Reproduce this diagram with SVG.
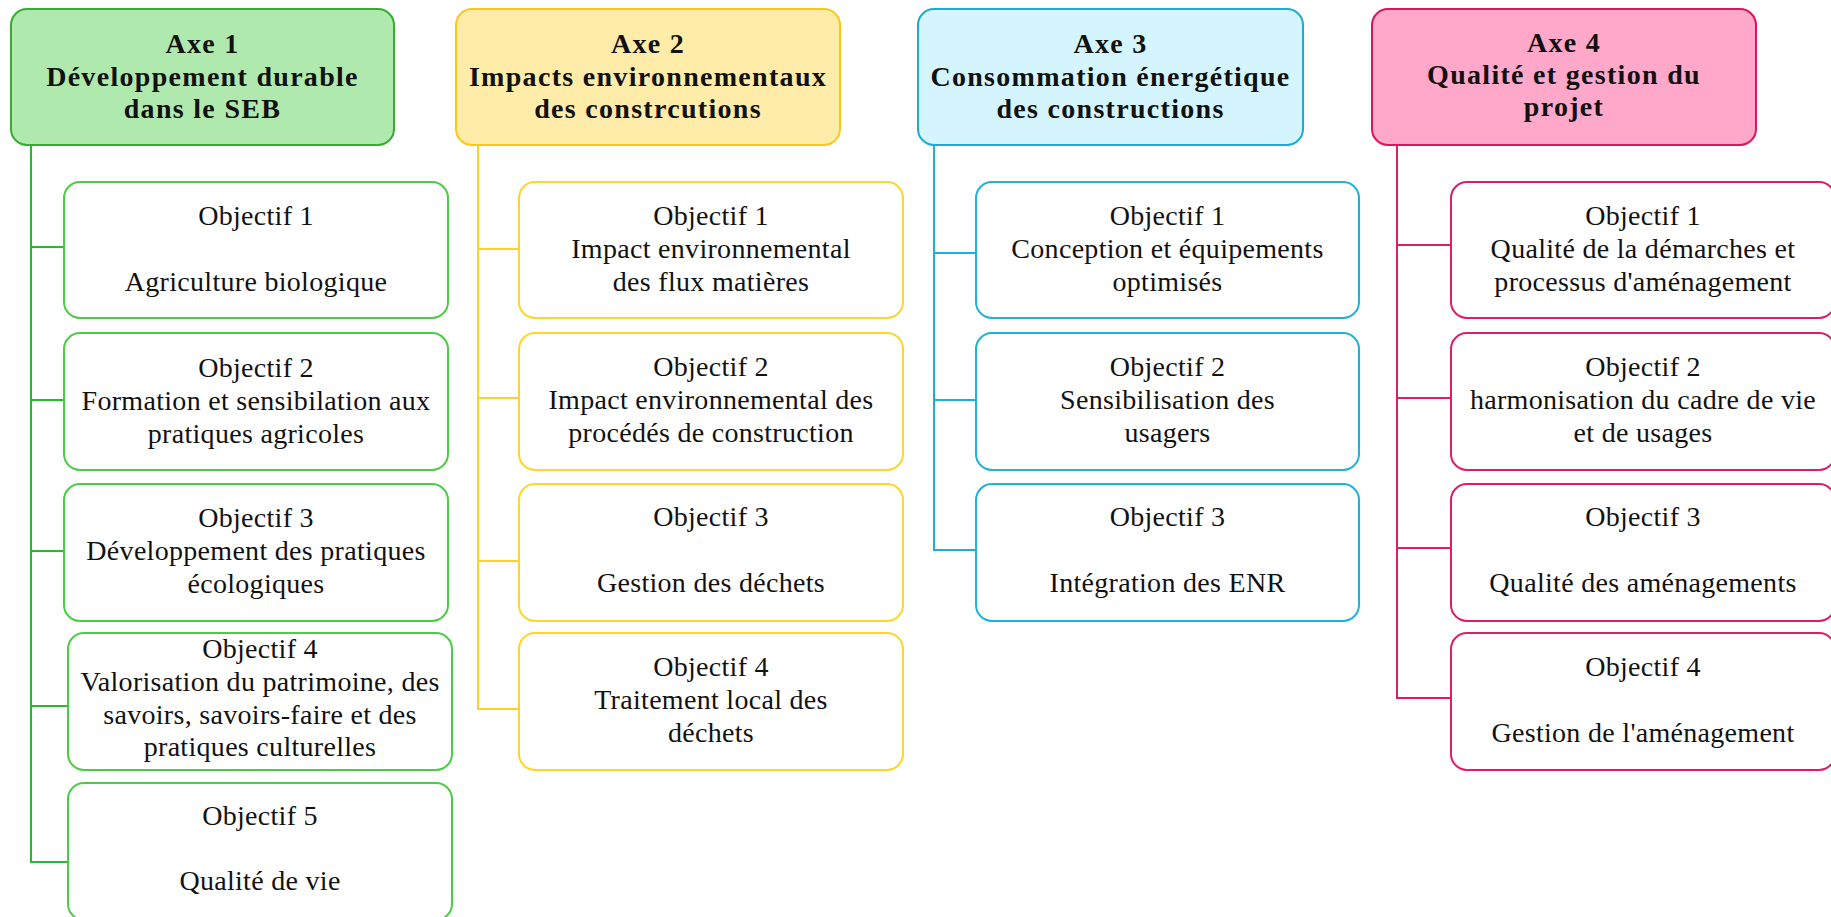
<svg xmlns="http://www.w3.org/2000/svg" width="1831" height="917" viewBox="0 0 1831 917">
<style>
text{font-family:"Liberation Serif","Times New Roman",serif;font-size:28px;fill:#111;text-anchor:middle;letter-spacing:0.3px}
.h{font-weight:bold;letter-spacing:1.3px}
rect{stroke-width:2}
.g rect.obj{fill:#fff;stroke:#4ccc46}
.y rect.obj{fill:#fff;stroke:#ffd52a}
.c rect.obj{fill:#fff;stroke:#1fb2d8}
.p rect.obj{fill:#fff;stroke:#dc1e66}
.gh{fill:#b0e9ae;stroke:#35ad30}
.yh{fill:#ffeca8;stroke:#f8c81c}
.ch{fill:#d4f5fd;stroke:#1aacd4}
.ph{fill:#ffa8c9;stroke:#d8155f}
#connectors path{fill:none;stroke-width:2}
</style>
<rect width="1831" height="917" fill="#fff"/>
<g id="connectors">
<path stroke="#2bb82b" d="M31 145V862H68M31 247H64M31 400H64M31 551H64M31 706H68"/>
<path stroke="#ffd21f" d="M478 145V709H519M478 249H519M478 398H519M478 561H519"/>
<path stroke="#1cb0d8" d="M934 145V550H976M934 253H976M934 400H976"/>
<path stroke="#dc1e66" d="M1397 145V698H1451M1397 245H1451M1397 398H1451M1397 548H1451"/>
</g>

<g id="axe1" class="g">
<rect class="gh" x="11" y="9" width="383" height="136" rx="16"/>
<text class="h" x="202.5" y="53">Axe 1</text>
<text class="h" x="202.5" y="86">Développement durable</text>
<text class="h" x="202.5" y="118">dans le SEB</text>
</g>
<g id="a1o1" class="g"><rect class="obj" x="64" y="182" width="384" height="136" rx="16"/>
<text x="256" y="225">Objectif 1</text><text x="256" y="291">Agriculture biologique</text></g>
<g id="a1o2" class="g"><rect class="obj" x="64" y="333" width="384" height="137" rx="16"/>
<text x="256" y="377">Objectif 2</text><text x="256" y="410">Formation et sensibilation aux</text><text x="256" y="443">pratiques agricoles</text></g>
<g id="a1o3" class="g"><rect class="obj" x="64" y="484" width="384" height="137" rx="16"/>
<text x="256" y="527">Objectif 3</text><text x="256" y="560">Développement des pratiques</text><text x="256" y="593">écologiques</text></g>
<g id="a1o4" class="g"><rect class="obj" x="68" y="633" width="384" height="137" rx="16"/>
<text x="260" y="658">Objectif 4</text><text x="260" y="691">Valorisation du patrimoine, des</text><text x="260" y="723.5">savoirs, savoirs-faire et des</text><text x="260" y="756">pratiques culturelles</text></g>
<g id="a1o5" class="g"><rect class="obj" x="68" y="783" width="384" height="137" rx="16"/>
<text x="260" y="825">Objectif 5</text><text x="260" y="890">Qualité de vie</text></g>

<g id="axe2" class="y">
<rect class="yh" x="456" y="9" width="384" height="136" rx="16"/>
<text class="h" x="648" y="53">Axe 2</text>
<text class="h" x="648" y="86">Impacts environnementaux</text>
<text class="h" x="648" y="118">des constrcutions</text>
</g>
<g id="a2o1" class="y"><rect class="obj" x="519" y="182" width="384" height="136" rx="16"/>
<text x="711" y="225">Objectif 1</text><text x="711" y="258">Impact environnemental</text><text x="711" y="291">des flux matières</text></g>
<g id="a2o2" class="y"><rect class="obj" x="519" y="333" width="384" height="137" rx="16"/>
<text x="711" y="376">Objectif 2</text><text x="711" y="409">Impact environnemental des</text><text x="711" y="442">procédés de construction</text></g>
<g id="a2o3" class="y"><rect class="obj" x="519" y="484" width="384" height="137" rx="16"/>
<text x="711" y="526">Objectif 3</text><text x="711" y="592">Gestion des déchets</text></g>
<g id="a2o4" class="y"><rect class="obj" x="519" y="633" width="384" height="137" rx="16"/>
<text x="711" y="676">Objectif 4</text><text x="711" y="709">Traitement local des</text><text x="711" y="742">déchets</text></g>

<g id="axe3" class="c">
<rect class="ch" x="918" y="9" width="385" height="136" rx="16"/>
<text class="h" x="1110.5" y="53">Axe 3</text>
<text class="h" x="1110.5" y="86">Consommation énergétique</text>
<text class="h" x="1110.5" y="118">des constructions</text>
</g>
<g id="a3o1" class="c"><rect class="obj" x="976" y="182" width="383" height="136" rx="16"/>
<text x="1167.5" y="225">Objectif 1</text><text x="1167.5" y="258">Conception et équipements</text><text x="1167.5" y="291">optimisés</text></g>
<g id="a3o2" class="c"><rect class="obj" x="976" y="333" width="383" height="137" rx="16"/>
<text x="1167.5" y="376">Objectif 2</text><text x="1167.5" y="409">Sensibilisation des</text><text x="1167.5" y="442">usagers</text></g>
<g id="a3o3" class="c"><rect class="obj" x="976" y="484" width="383" height="137" rx="16"/>
<text x="1167.5" y="526">Objectif 3</text><text x="1167.5" y="592">Intégration des ENR</text></g>

<g id="axe4" class="p">
<rect class="ph" x="1372" y="9" width="384" height="136" rx="16"/>
<text class="h" x="1564" y="52">Axe 4</text>
<text class="h" x="1564" y="84">Qualité et gestion du</text>
<text class="h" x="1564" y="116">projet</text>
</g>
<g id="a4o1" class="p"><rect class="obj" x="1451" y="182" width="384" height="136" rx="16"/>
<text x="1643" y="225">Objectif 1</text><text x="1643" y="258">Qualité de la démarches et</text><text x="1643" y="291">processus d'aménagement</text></g>
<g id="a4o2" class="p"><rect class="obj" x="1451" y="333" width="384" height="137" rx="16"/>
<text x="1643" y="376">Objectif 2</text><text x="1643" y="409">harmonisation du cadre de vie</text><text x="1643" y="442">et de usages</text></g>
<g id="a4o3" class="p"><rect class="obj" x="1451" y="484" width="384" height="137" rx="16"/>
<text x="1643" y="526">Objectif 3</text><text x="1643" y="592">Qualité des aménagements</text></g>
<g id="a4o4" class="p"><rect class="obj" x="1451" y="633" width="384" height="137" rx="16"/>
<text x="1643" y="676">Objectif 4</text><text x="1643" y="742">Gestion de l'aménagement</text></g>
</svg>
